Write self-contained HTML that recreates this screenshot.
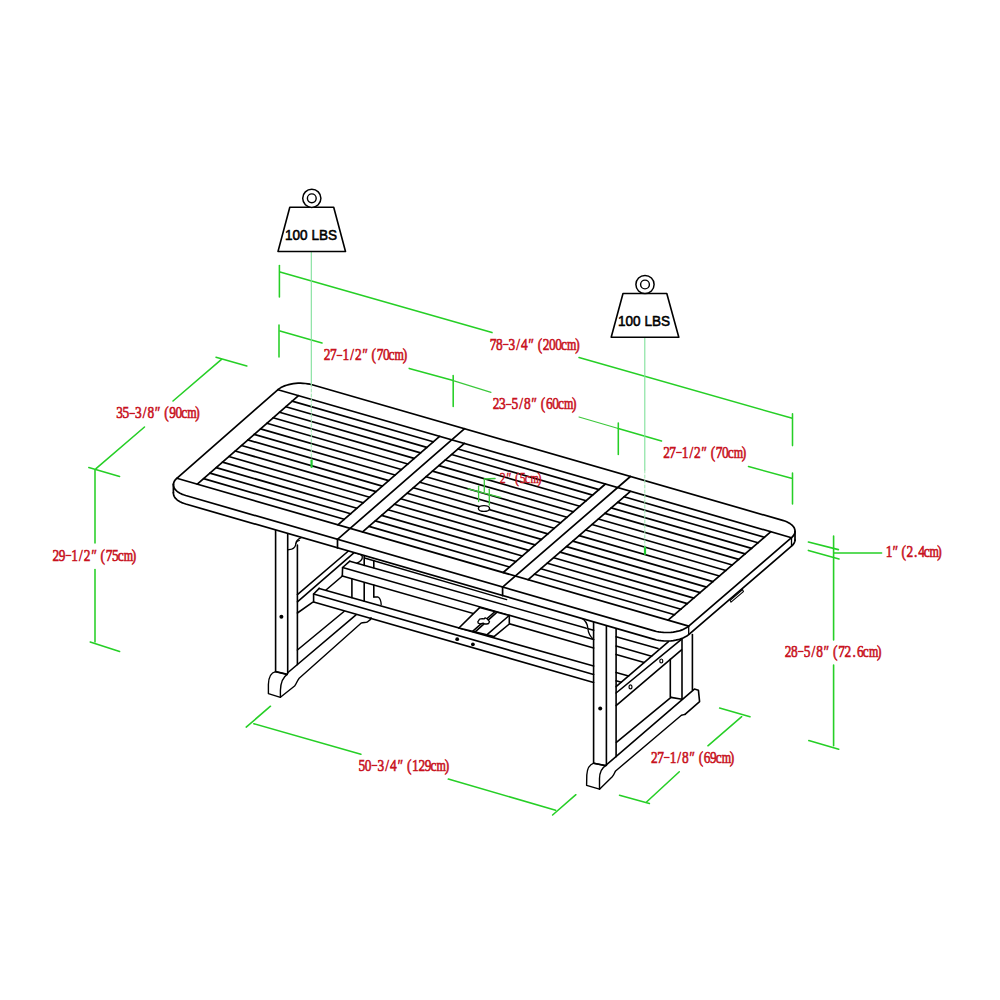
<!DOCTYPE html>
<html><head><meta charset="utf-8"><style>
html,body{margin:0;padding:0;background:#fff;}
svg{display:block;}
</style></head><body>
<svg width="1000" height="1000" viewBox="0 0 1000 1000" stroke-linecap="round">
<rect width="1000" height="1000" fill="#fff"/>
<line x1="279.4" y1="265.6" x2="279.4" y2="297.0" stroke="#26cf26" stroke-width="1.55" />
<line x1="280.0" y1="272.0" x2="492.0" y2="332.6" stroke="#26cf26" stroke-width="1.55" />
<line x1="579.0" y1="357.5" x2="791.4" y2="418.1" stroke="#26cf26" stroke-width="1.55" />
<line x1="792.5" y1="413.7" x2="792.5" y2="445.6" stroke="#26cf26" stroke-width="1.55" />
<text transform="scale(0.76,1)" text-anchor="middle" font-family="'Liberation Serif', serif" font-size="17.6" fill="#c8121e" font-weight="normal" stroke="#c8121e" stroke-width="0.65"><tspan x="648.84" y="349.7">7</tspan><tspan x="657.06" y="349.7">8</tspan><tspan x="665.27" y="347.1" font-size="13.0">–</tspan><tspan x="673.48" y="349.7">3</tspan><tspan x="681.69" y="349.7">/</tspan><tspan x="689.90" y="349.7">4</tspan><tspan x="697.80" y="349.7" font-style="italic">″</tspan><tspan x="710.44" y="349.7">(</tspan><tspan x="718.65" y="349.7">2</tspan><tspan x="726.86" y="349.7">0</tspan><tspan x="735.07" y="349.7">0</tspan><tspan x="742.10" y="349.7">c</tspan><tspan x="752.29" y="349.7" font-size="15.8">m</tspan><tspan x="759.71" y="349.7">)</tspan></text>
<line x1="279.0" y1="325.0" x2="279.0" y2="357.0" stroke="#26cf26" stroke-width="1.55" />
<line x1="280.0" y1="331.0" x2="322.0" y2="343.0" stroke="#26cf26" stroke-width="1.55" />
<line x1="409.2" y1="368.4" x2="453.2" y2="380.4" stroke="#26cf26" stroke-width="1.55" />
<line x1="453.2" y1="375.6" x2="453.2" y2="406.4" stroke="#26cf26" stroke-width="1.55" />
<text transform="scale(0.76,1)" text-anchor="middle" font-family="'Liberation Serif', serif" font-size="17.6" fill="#c8121e" font-weight="normal" stroke="#c8121e" stroke-width="0.65"><tspan x="430.41" y="360.2">2</tspan><tspan x="438.60" y="360.2">7</tspan><tspan x="446.78" y="357.6" font-size="13.0">–</tspan><tspan x="454.97" y="360.2">1</tspan><tspan x="463.16" y="360.2">/</tspan><tspan x="471.35" y="360.2">2</tspan><tspan x="479.21" y="360.2" font-style="italic">″</tspan><tspan x="491.81" y="360.2">(</tspan><tspan x="500.00" y="360.2">7</tspan><tspan x="508.19" y="360.2">0</tspan><tspan x="515.19" y="360.2">c</tspan><tspan x="525.35" y="360.2" font-size="15.8">m</tspan><tspan x="532.75" y="360.2">)</tspan></text>
<line x1="453.2" y1="380.6" x2="491.0" y2="392.4" stroke="#3cc83c" stroke-width="1.1" />
<line x1="579.0" y1="417.0" x2="618.3" y2="428.5" stroke="#3cc83c" stroke-width="1.1" />
<text transform="scale(0.76,1)" text-anchor="middle" font-family="'Liberation Serif', serif" font-size="17.6" fill="#c8121e" font-weight="normal" stroke="#c8121e" stroke-width="0.65"><tspan x="652.80" y="409.2">2</tspan><tspan x="661.02" y="409.2">3</tspan><tspan x="669.25" y="406.6" font-size="13.0">–</tspan><tspan x="677.48" y="409.2">5</tspan><tspan x="685.70" y="409.2">/</tspan><tspan x="693.93" y="409.2">8</tspan><tspan x="701.84" y="409.2" font-style="italic">″</tspan><tspan x="714.49" y="409.2">(</tspan><tspan x="722.72" y="409.2">6</tspan><tspan x="730.95" y="409.2">0</tspan><tspan x="737.99" y="409.2">c</tspan><tspan x="748.19" y="409.2" font-size="15.8">m</tspan><tspan x="755.62" y="409.2">)</tspan></text>
<line x1="618.3" y1="423.0" x2="618.3" y2="454.5" stroke="#26cf26" stroke-width="1.55" />
<line x1="618.3" y1="428.5" x2="661.5" y2="441.0" stroke="#26cf26" stroke-width="1.55" />
<line x1="748.5" y1="466.5" x2="791.4" y2="478.2" stroke="#26cf26" stroke-width="1.55" />
<line x1="792.5" y1="473.0" x2="792.5" y2="504.0" stroke="#26cf26" stroke-width="1.55" />
<text transform="scale(0.76,1)" text-anchor="middle" font-family="'Liberation Serif', serif" font-size="17.6" fill="#c8121e" font-weight="normal" stroke="#c8121e" stroke-width="0.65"><tspan x="876.97" y="458.0">2</tspan><tspan x="885.12" y="458.0">7</tspan><tspan x="893.27" y="455.4" font-size="13.0">–</tspan><tspan x="901.41" y="458.0">1</tspan><tspan x="909.56" y="458.0">/</tspan><tspan x="917.71" y="458.0">2</tspan><tspan x="925.53" y="458.0" font-style="italic">″</tspan><tspan x="938.08" y="458.0">(</tspan><tspan x="946.23" y="458.0">7</tspan><tspan x="954.38" y="458.0">0</tspan><tspan x="961.34" y="458.0">c</tspan><tspan x="971.46" y="458.0" font-size="15.8">m</tspan><tspan x="978.82" y="458.0">)</tspan></text>
<line x1="216.0" y1="357.2" x2="246.8" y2="366.0" stroke="#26cf26" stroke-width="1.55" />
<line x1="221.5" y1="359.4" x2="173.0" y2="401.0" stroke="#26cf26" stroke-width="1.55" />
<line x1="144.5" y1="427.0" x2="96.0" y2="468.7" stroke="#26cf26" stroke-width="1.55" />
<line x1="88.8" y1="467.6" x2="119.6" y2="476.4" stroke="#26cf26" stroke-width="1.55" />
<text transform="scale(0.76,1)" text-anchor="middle" font-family="'Liberation Serif', serif" font-size="17.6" fill="#c8121e" font-weight="normal" stroke="#c8121e" stroke-width="0.65"><tspan x="157.51" y="418.4">3</tspan><tspan x="165.70" y="418.4">5</tspan><tspan x="173.89" y="415.8" font-size="13.0">–</tspan><tspan x="182.08" y="418.4">3</tspan><tspan x="190.26" y="418.4">/</tspan><tspan x="198.45" y="418.4">8</tspan><tspan x="206.32" y="418.4" font-style="italic">″</tspan><tspan x="218.92" y="418.4">(</tspan><tspan x="227.11" y="418.4">9</tspan><tspan x="235.29" y="418.4">0</tspan><tspan x="242.30" y="418.4">c</tspan><tspan x="252.46" y="418.4" font-size="15.8">m</tspan><tspan x="259.85" y="418.4">)</tspan></text>
<line x1="95.0" y1="469.8" x2="95.0" y2="543.0" stroke="#26cf26" stroke-width="1.55" />
<line x1="95.0" y1="569.5" x2="95.0" y2="642.0" stroke="#26cf26" stroke-width="1.55" />
<line x1="90.2" y1="642.0" x2="119.6" y2="651.4" stroke="#26cf26" stroke-width="1.55" />
<text transform="scale(0.76,1)" text-anchor="middle" font-family="'Liberation Serif', serif" font-size="17.6" fill="#c8121e" font-weight="normal" stroke="#c8121e" stroke-width="0.65"><tspan x="73.59" y="561.0">2</tspan><tspan x="81.81" y="561.0">9</tspan><tspan x="90.04" y="558.4" font-size="13.0">–</tspan><tspan x="98.27" y="561.0">1</tspan><tspan x="106.49" y="561.0">/</tspan><tspan x="114.72" y="561.0">2</tspan><tspan x="122.63" y="561.0" font-style="italic">″</tspan><tspan x="135.28" y="561.0">(</tspan><tspan x="143.51" y="561.0">7</tspan><tspan x="151.73" y="561.0">5</tspan><tspan x="158.78" y="561.0">c</tspan><tspan x="168.98" y="561.0" font-size="15.8">m</tspan><tspan x="176.41" y="561.0">)</tspan></text>
<line x1="833.6" y1="536.0" x2="833.6" y2="640.0" stroke="#26cf26" stroke-width="1.6" />
<line x1="833.6" y1="665.0" x2="833.6" y2="745.8" stroke="#26cf26" stroke-width="1.6" />
<line x1="808.4" y1="542.0" x2="838.4" y2="549.6" stroke="#26cf26" stroke-width="1.6" />
<line x1="808.4" y1="550.4" x2="839.0" y2="559.0" stroke="#26cf26" stroke-width="1.6" />
<line x1="834.0" y1="553.0" x2="881.6" y2="553.0" stroke="#26cf26" stroke-width="1.6" />
<line x1="808.8" y1="740.6" x2="838.7" y2="749.2" stroke="#26cf26" stroke-width="1.6" />
<text transform="scale(0.76,1)" text-anchor="middle" font-family="'Liberation Serif', serif" font-size="17.6" fill="#c8121e" font-weight="normal" stroke="#c8121e" stroke-width="0.65"><tspan x="1169.70" y="557.2">1</tspan><tspan x="1177.09" y="557.2" font-style="italic">″</tspan><tspan x="1189.22" y="557.2">(</tspan><tspan x="1197.04" y="557.2">2</tspan><tspan x="1204.85" y="557.2">.</tspan><tspan x="1212.66" y="557.2">4</tspan><tspan x="1219.29" y="557.2">c</tspan><tspan x="1229.07" y="557.2" font-size="15.8">m</tspan><tspan x="1236.09" y="557.2">)</tspan></text>
<text transform="scale(0.76,1)" text-anchor="middle" font-family="'Liberation Serif', serif" font-size="17.6" fill="#c8121e" font-weight="normal" stroke="#c8121e" stroke-width="0.65"><tspan x="1037.03" y="656.8">2</tspan><tspan x="1045.30" y="656.8">8</tspan><tspan x="1053.57" y="654.2" font-size="13.0">–</tspan><tspan x="1061.83" y="656.8">5</tspan><tspan x="1070.10" y="656.8">/</tspan><tspan x="1078.37" y="656.8">8</tspan><tspan x="1086.34" y="656.8" font-style="italic">″</tspan><tspan x="1099.04" y="656.8">(</tspan><tspan x="1107.31" y="656.8">7</tspan><tspan x="1115.58" y="656.8">2</tspan><tspan x="1123.85" y="656.8">.</tspan><tspan x="1132.11" y="656.8">6</tspan><tspan x="1139.20" y="656.8">c</tspan><tspan x="1149.44" y="656.8" font-size="15.8">m</tspan><tspan x="1156.92" y="656.8">)</tspan></text>
<line x1="719.6" y1="708.1" x2="750.0" y2="716.7" stroke="#26cf26" stroke-width="1.55" />
<line x1="741.7" y1="716.7" x2="707.9" y2="745.8" stroke="#26cf26" stroke-width="1.55" />
<line x1="679.3" y1="771.8" x2="646.8" y2="801.7" stroke="#26cf26" stroke-width="1.55" />
<line x1="619.5" y1="795.2" x2="649.4" y2="803.5" stroke="#26cf26" stroke-width="1.55" />
<text transform="scale(0.76,1)" text-anchor="middle" font-family="'Liberation Serif', serif" font-size="17.6" fill="#c8121e" font-weight="normal" stroke="#c8121e" stroke-width="0.65"><tspan x="860.94" y="762.7">2</tspan><tspan x="869.12" y="762.7">7</tspan><tspan x="877.31" y="760.1" font-size="13.0">–</tspan><tspan x="885.50" y="762.7">1</tspan><tspan x="893.68" y="762.7">/</tspan><tspan x="901.87" y="762.7">8</tspan><tspan x="909.74" y="762.7" font-style="italic">″</tspan><tspan x="922.34" y="762.7">(</tspan><tspan x="930.53" y="762.7">6</tspan><tspan x="938.71" y="762.7">9</tspan><tspan x="945.72" y="762.7">c</tspan><tspan x="955.88" y="762.7" font-size="15.8">m</tspan><tspan x="963.27" y="762.7">)</tspan></text>
<line x1="246.2" y1="727.1" x2="270.5" y2="706.2" stroke="#26cf26" stroke-width="1.55" />
<line x1="253.8" y1="723.7" x2="360.9" y2="754.3" stroke="#26cf26" stroke-width="1.55" />
<line x1="448.3" y1="779.1" x2="555.6" y2="810.2" stroke="#26cf26" stroke-width="1.55" />
<line x1="552.6" y1="815.0" x2="575.9" y2="794.7" stroke="#26cf26" stroke-width="1.55" />
<text transform="scale(0.76,1)" text-anchor="middle" font-family="'Liberation Serif', serif" font-size="17.6" fill="#c8121e" font-weight="normal" stroke="#c8121e" stroke-width="0.65"><tspan x="476.12" y="770.9">5</tspan><tspan x="484.41" y="770.9">0</tspan><tspan x="492.71" y="768.3" font-size="13.0">–</tspan><tspan x="501.00" y="770.9">3</tspan><tspan x="509.30" y="770.9">/</tspan><tspan x="517.59" y="770.9">4</tspan><tspan x="525.59" y="770.9" font-style="italic">″</tspan><tspan x="538.33" y="770.9">(</tspan><tspan x="546.62" y="770.9">1</tspan><tspan x="554.91" y="770.9">2</tspan><tspan x="563.21" y="770.9">9</tspan><tspan x="570.32" y="770.9">c</tspan><tspan x="580.59" y="770.9" font-size="15.8">m</tspan><tspan x="588.09" y="770.9">)</tspan></text>
<path d="M349.8,561.2 L593.6,630.2" stroke="#000" stroke-width="1.6" fill="none" stroke-linejoin="round"/>
<path d="M616.1,636.7 L658.0,648.6" stroke="#000" stroke-width="1.6" fill="none" stroke-linejoin="round"/>
<path d="M342.6,567.5 L593.6,639.5" stroke="#000" stroke-width="1.6" fill="none" stroke-linejoin="round"/>
<path d="M616.1,646.0 L651.6,656.2" stroke="#000" stroke-width="1.6" fill="none" stroke-linejoin="round"/>
<path d="M342.3,575.9 L593.6,648.0" stroke="#000" stroke-width="1.6" fill="none" stroke-linejoin="round"/>
<path d="M616.1,654.4 L644.2,662.4" stroke="#000" stroke-width="1.6" fill="none" stroke-linejoin="round"/>
<path d="M349.8,561.2 L342.6,567.5 L342.3,575.9" stroke="#000" stroke-width="1.6" fill="none" stroke-linejoin="round"/>
<path d="M319.2,588.4 L593.6,666.1" stroke="#000" stroke-width="1.6" fill="none" stroke-linejoin="round"/>
<path d="M616.1,672.4 L628.6,676.0" stroke="#000" stroke-width="1.6" fill="none" stroke-linejoin="round"/>
<path d="M313.6,594.0 L593.6,674.4" stroke="#000" stroke-width="1.6" fill="none" stroke-linejoin="round"/>
<path d="M616.1,680.8 L621.3,682.3" stroke="#000" stroke-width="1.6" fill="none" stroke-linejoin="round"/>
<path d="M313.6,602.0 L593.6,682.4" stroke="#000" stroke-width="1.6" fill="none" stroke-linejoin="round"/>
<path d="M319.2,588.4 L313.6,594.0 L313.6,602.0" stroke="#000" stroke-width="1.6" fill="none" stroke-linejoin="round"/>
<circle cx="457.2" cy="639.2" r="1.9" fill="#000"/>
<circle cx="472.9" cy="644.3" r="1.9" fill="#000"/>
<path d="M479.6,607.6 L509.3,615.6 L509.3,624.0 L494.0,636.6 L486.8,634.8 L458.9,628.0" stroke="#000" stroke-width="1.6" fill="#fff" stroke-linejoin="round"/>
<path d="M479.6,607.6 L458.9,628.0" stroke="#000" stroke-width="1.6" fill="none" stroke-linejoin="round"/>
<path d="M508.6,616.0 L486.8,634.8" stroke="#000" stroke-width="1.6" fill="none" stroke-linejoin="round"/>
<path d="M494.5,612.0 L472.6,631.4" stroke="#000" stroke-width="1.6" fill="none" stroke-linejoin="round"/>
<path d="M496.5,612.6 L474.9,632.2" stroke="#000" stroke-width="1.6" fill="none" stroke-linejoin="round"/>
<path d="M477.8,621.8 L479.6,619.2 L482.3,618.6 L484.3,618.8 L485.2,617.8 L487.3,619.0 L489.5,621.6 L488.6,623.5 L486.8,624.0 L485.0,624.0 L483.2,623.2 L480.2,624.0 L478.3,623.2 Z" fill="#fff" stroke="#000" stroke-width="1.3" stroke-linejoin="round"/>
<path d="M364.5,558.0 L506.6,599.6" stroke="#000" stroke-width="1.5" fill="none" stroke-linejoin="round"/>
<path d="M351.9,578.9 L351.9,597.6" stroke="#000" stroke-width="1.6" fill="none" stroke-linejoin="round"/>
<path d="M364.2,555.8 L364.2,565.4" stroke="#000" stroke-width="1.6" fill="none" stroke-linejoin="round"/>
<path d="M364.2,582.8 L364.2,601.2" stroke="#000" stroke-width="1.6" fill="none" stroke-linejoin="round"/>
<path d="M373.8,560.6 L373.8,567.8" stroke="#000" stroke-width="1.6" fill="none" stroke-linejoin="round"/>
<path d="M373.8,585.0 L373.8,597.0" stroke="#000" stroke-width="1.6" fill="none" stroke-linejoin="round"/>
<path d="M355.2,553.1 C359,553.6 361.8,554.6 362.3,556.5 C362.6,558.8 360.5,561.5 357,563.2" fill="none" stroke="#000" stroke-width="1.3"/>
<path d="M373.8,597 L378,597 C380,598 381,601 381.2,604.6" fill="none" stroke="#000" stroke-width="1.3"/>
<path d="M297.4,594.6 L348.4,551.0" stroke="#000" stroke-width="1.6" fill="none" stroke-linejoin="round"/>
<path d="M297.4,601.8 L353.6,553.2" stroke="#000" stroke-width="1.6" fill="none" stroke-linejoin="round"/>
<path d="M297.4,613.0 L312.5,602.3" stroke="#000" stroke-width="1.6" fill="none" stroke-linejoin="round"/>
<path d="M326.0,590.0 L342.4,576.0" stroke="#000" stroke-width="1.6" fill="none" stroke-linejoin="round"/>
<path d="M297.4,650.0 L344.0,611.5" stroke="#000" stroke-width="1.6" fill="none" stroke-linejoin="round"/>
<path d="M288.0,672.5 L356.0,614.8" stroke="#000" stroke-width="1.6" fill="none" stroke-linejoin="round"/>
<path d="M280.4,697.2 L294.6,686 C296.4,684 297.2,680.5 299.2,678.2 L361,623.2 C363,622.2 365.5,622.8 367,622.2 L370.6,619.4 L371,617.6" fill="none" stroke="#000" stroke-width="1.4" stroke-linejoin="round"/>
<path d="M275.6,529.0 L275.6,671.6" stroke="#000" stroke-width="1.6" fill="none" stroke-linejoin="round"/>
<path d="M287.7,532.0 L287.7,673.4" stroke="#000" stroke-width="1.6" fill="none" stroke-linejoin="round"/>
<path d="M297.4,545.0 L297.4,664.6" stroke="#000" stroke-width="1.6" fill="none" stroke-linejoin="round"/>
<path d="M287.7,549.8 L291.6,549.2 C294.2,548.4 295.6,546.4 295.9,543.4 C296.2,540.6 298.2,538.8 301.2,537.6" fill="none" stroke="#000" stroke-width="1.3"/>
<path d="M295.9,543.4 C296.6,541.6 297.8,540.6 299.4,540.4" fill="none" stroke="#000" stroke-width="1.1"/>
<circle cx="281.4" cy="616.7" r="2" fill="#000"/>
<path d="M275.6,671.6 C271.2,672.6 268.6,676.8 268.4,684.4 L268.4,693.6 L280.4,697.4 L280.4,690.6 C280.6,683.4 282.6,677.4 287.2,674.4 Z" fill="#fff" stroke="#000" stroke-width="1.4" stroke-linejoin="round"/>
<path d="M275.6,671.6 L287.2,674.4" stroke="#000" stroke-width="1.6" fill="none" stroke-linejoin="round"/>
<path d="M616.1,686.7 L668.5,641.7" stroke="#000" stroke-width="1.6" fill="none" stroke-linejoin="round"/>
<path d="M616.1,693.0 L681.1,639.6" stroke="#000" stroke-width="1.6" fill="none" stroke-linejoin="round"/>
<path d="M616.1,705.6 L681.5,649.8" stroke="#000" stroke-width="1.6" fill="none" stroke-linejoin="round"/>
<ellipse cx="630.5" cy="686.9" rx="1.5" ry="2" fill="none" stroke="#000" stroke-width="1.2"/>
<ellipse cx="661.3" cy="661.0" rx="1.5" ry="2" fill="none" stroke="#000" stroke-width="1.2"/>
<path d="M670.3,659.4 L670.3,697.0" stroke="#000" stroke-width="1.6" fill="none" stroke-linejoin="round"/>
<path d="M682.0,639.6 L682.0,699.3" stroke="#000" stroke-width="1.6" fill="none" stroke-linejoin="round"/>
<path d="M692.4,634.5 L692.4,690.0" stroke="#000" stroke-width="1.6" fill="none" stroke-linejoin="round"/>
<path d="M616.4,742.4 L671.0,697.4" stroke="#000" stroke-width="1.6" fill="none" stroke-linejoin="round"/>
<path d="M671.0,697.4 L682.0,699.3" stroke="#000" stroke-width="1.6" fill="none" stroke-linejoin="round"/>
<path d="M606.0,765.2 L694.4,689.1 L698.4,690.2 L699.6,701.6 L685.0,714.4" stroke="#000" stroke-width="1.6" fill="none" stroke-linejoin="round"/>
<path d="M599.5,789.2 L612.5,776.4 C614,774.6 614.5,772.6 615.6,771 L681.4,715.2 L685,714.4" fill="none" stroke="#000" stroke-width="1.4" stroke-linejoin="round"/>
<path d="M593.6,621.5 L593.6,763.2" stroke="#000" stroke-width="1.6" fill="none" stroke-linejoin="round"/>
<path d="M606.4,625.4 L606.4,765.4" stroke="#000" stroke-width="1.6" fill="none" stroke-linejoin="round"/>
<path d="M616.1,628.2 L616.1,756.7" stroke="#000" stroke-width="1.6" fill="none" stroke-linejoin="round"/>
<path d="M580.8,617.6 C585.2,620 587.4,623.4 587.8,628 C588.2,633 590,636.6 593.6,639.2" fill="#fff" stroke="#000" stroke-width="1.3"/>
<circle cx="600.2" cy="708.6" r="2" fill="#000"/>
<path d="M593.7,763.2 C589.6,764.6 587.2,768.6 586.8,775 L586.6,785.3 L599.5,789.2 L599.5,778.6 C599.6,772.8 601.4,768.2 605.6,765.6 Z" fill="#fff" stroke="#000" stroke-width="1.4" stroke-linejoin="round"/>
<path d="M593.7,763.2 L605.6,765.6" stroke="#000" stroke-width="1.6" fill="none" stroke-linejoin="round"/>
<path d="M730.2,600.4 L742.6,589.6 L743.4,591.6 L731.0,602.2 Z" fill="#fff" stroke="#000" stroke-width="1.1"/>
<path d="M278.0,389.7 L279.3,388.6 L280.9,387.6 L282.6,386.7 L284.5,385.9 L286.5,385.2 L288.7,384.6 L290.9,384.1 L293.3,383.7 L295.7,383.4 L298.1,383.2 L300.6,383.2 L303.0,383.3 L305.4,383.5 L307.8,383.8 L310.0,384.2 L312.2,384.8 L782.7,520.4 L784.8,521.0 L786.7,521.8 L788.5,522.7 L790.0,523.6 L791.4,524.6 L792.6,525.7 L793.5,526.8 L794.3,528.0 L794.7,529.2 L795.0,530.5 L795.0,531.7 L795.0,540.2 L794.8,541.5 L794.3,542.7 L793.6,543.9 L792.6,545.1 L791.5,546.2 L688.7,634.6 L687.3,635.7 L685.8,636.6 L684.0,637.5 L682.1,638.4 L680.1,639.1 L677.9,639.7 L675.7,640.2 L673.3,640.6 L670.9,640.9 L668.4,641.0 L666.0,641.0 L663.5,640.9 L661.1,640.7 L658.8,640.4 L656.5,640.0 L654.3,639.4 L185.7,504.0 L183.6,503.3 L181.7,502.6 L180.0,501.7 L178.4,500.8 L177.1,499.8 L175.9,498.7 L174.9,497.6 L174.2,496.4 L173.7,495.2 L173.5,493.9 L173.4,492.7 L173.4,484.2 L173.7,483.0 L174.1,481.7 L174.8,480.5 L175.7,479.4 L176.8,478.3 Z" stroke="none" stroke-width="0" fill="#fff" stroke-linejoin="round"/>
<path d="M278.0,389.7 L279.3,388.6 L280.9,387.6 L282.6,386.7 L284.5,385.9 L286.5,385.2 L288.7,384.6 L290.9,384.1 L293.3,383.7 L295.7,383.4 L298.1,383.2 L300.6,383.2 L303.0,383.3 L305.4,383.5 L307.8,383.8 L310.0,384.2 L312.2,384.8 L782.7,520.4 L784.8,521.0 L786.7,521.8 L788.5,522.7 L790.0,523.6 L791.4,524.6 L792.6,525.7 L793.5,526.8 L794.3,528.0 L794.7,529.2 L795.0,530.5 L795.0,531.7 L794.8,533.0 L794.3,534.2 L793.6,535.4 L792.6,536.6 L791.5,537.7 L688.7,626.1 L687.3,627.2 L685.8,628.1 L684.0,629.0 L682.1,629.9 L680.1,630.6 L677.9,631.2 L675.7,631.7 L673.3,632.1 L670.9,632.4 L668.4,632.5 L666.0,632.5 L663.5,632.4 L661.1,632.2 L658.8,631.9 L656.5,631.5 L654.3,630.9 L185.7,495.5 L183.6,494.8 L181.7,494.1 L180.0,493.2 L178.4,492.3 L177.1,491.3 L175.9,490.2 L174.9,489.1 L174.2,487.9 L173.7,486.7 L173.5,485.4 L173.4,484.2 L173.7,483.0 L174.1,481.7 L174.8,480.5 L175.7,479.4 L176.8,478.3 Z" stroke="#000" stroke-width="1.7" fill="none" stroke-linejoin="round"/>
<path d="M795.0,540.2 L794.8,541.5 L794.3,542.7 L793.6,543.9 L792.6,545.1 L791.5,546.2 L688.7,634.6 L687.3,635.7 L685.8,636.6 L684.0,637.5 L682.1,638.4 L680.1,639.1 L677.9,639.7 L675.7,640.2 L673.3,640.6 L670.9,640.9 L668.4,641.0 L666.0,641.0 L663.5,640.9 L661.1,640.7 L658.8,640.4 L656.5,640.0 L654.3,639.4 L185.7,504.0 L183.6,503.3 L181.7,502.6 L180.0,501.7 L178.4,500.8 L177.1,499.8 L175.9,498.7 L174.9,497.6 L174.2,496.4 L173.7,495.2 L173.5,493.9 L173.4,492.7" stroke="#000" stroke-width="1.7" fill="none" stroke-linejoin="round"/>
<line x1="173.4" y1="484.2" x2="173.4" y2="492.7" stroke="#000" stroke-width="1.7" />
<line x1="795.0" y1="531.7" x2="795.0" y2="540.2" stroke="#000" stroke-width="1.7" />
<line x1="791.5" y1="537.7" x2="791.5" y2="546.2" stroke="#000" stroke-width="1.3" />
<line x1="688.7" y1="626.1" x2="688.7" y2="634.6" stroke="#000" stroke-width="1.3" />
<line x1="278.0" y1="389.7" x2="791.5" y2="537.7" stroke="#000" stroke-width="1.7" />
<line x1="176.8" y1="478.3" x2="688.7" y2="626.1" stroke="#000" stroke-width="1.7" />
<line x1="298.5" y1="395.6" x2="197.3" y2="484.2" stroke="#000" stroke-width="1.7" />
<line x1="770.9" y1="531.7" x2="668.1" y2="620.2" stroke="#000" stroke-width="1.7" />
<line x1="464.6" y1="428.7" x2="337.5" y2="539.4" stroke="#000" stroke-width="1.7" />
<line x1="337.5" y1="539.4" x2="337.5" y2="547.9" stroke="#000" stroke-width="1.7" />
<line x1="630.4" y1="476.5" x2="502.6" y2="587.1" stroke="#000" stroke-width="1.7" />
<line x1="502.6" y1="587.1" x2="502.6" y2="595.6" stroke="#000" stroke-width="1.7" />
<line x1="439.6" y1="436.3" x2="337.9" y2="524.8" stroke="#000" stroke-width="1.7" />
<line x1="464.4" y1="443.4" x2="362.6" y2="531.9" stroke="#000" stroke-width="1.7" />
<line x1="605.4" y1="484.0" x2="503.2" y2="572.5" stroke="#000" stroke-width="1.7" />
<line x1="630.4" y1="491.3" x2="528.2" y2="579.7" stroke="#000" stroke-width="1.7" />
<line x1="292.1" y1="401.1" x2="433.2" y2="441.8" stroke="#000" stroke-width="1.7" />
<line x1="458.0" y1="449.0" x2="599.0" y2="489.6" stroke="#000" stroke-width="1.7" />
<line x1="624.0" y1="496.8" x2="764.4" y2="537.3" stroke="#000" stroke-width="1.7" />
<line x1="285.8" y1="406.7" x2="426.8" y2="447.4" stroke="#000" stroke-width="1.7" />
<line x1="451.6" y1="454.5" x2="592.6" y2="495.1" stroke="#000" stroke-width="1.7" />
<line x1="617.6" y1="502.4" x2="758.0" y2="542.8" stroke="#000" stroke-width="1.7" />
<line x1="279.5" y1="412.2" x2="420.5" y2="452.9" stroke="#000" stroke-width="1.7" />
<line x1="445.2" y1="460.0" x2="586.2" y2="500.7" stroke="#000" stroke-width="1.7" />
<line x1="611.2" y1="507.9" x2="751.6" y2="548.4" stroke="#000" stroke-width="1.7" />
<line x1="273.1" y1="417.8" x2="414.1" y2="458.4" stroke="#000" stroke-width="1.7" />
<line x1="438.9" y1="465.6" x2="579.8" y2="506.2" stroke="#000" stroke-width="1.7" />
<line x1="604.8" y1="513.4" x2="745.1" y2="553.9" stroke="#000" stroke-width="1.7" />
<line x1="266.8" y1="423.3" x2="407.8" y2="464.0" stroke="#000" stroke-width="1.7" />
<line x1="432.5" y1="471.1" x2="573.4" y2="511.7" stroke="#000" stroke-width="1.7" />
<line x1="598.4" y1="519.0" x2="738.7" y2="559.4" stroke="#000" stroke-width="1.7" />
<line x1="260.5" y1="428.9" x2="401.4" y2="469.5" stroke="#000" stroke-width="1.7" />
<line x1="426.1" y1="476.7" x2="567.0" y2="517.3" stroke="#000" stroke-width="1.7" />
<line x1="592.0" y1="524.5" x2="732.3" y2="565.0" stroke="#000" stroke-width="1.7" />
<line x1="254.1" y1="434.4" x2="395.0" y2="475.0" stroke="#000" stroke-width="1.7" />
<line x1="419.8" y1="482.2" x2="560.6" y2="522.8" stroke="#000" stroke-width="1.7" />
<line x1="585.6" y1="530.0" x2="725.9" y2="570.5" stroke="#000" stroke-width="1.7" />
<line x1="247.8" y1="439.9" x2="388.7" y2="480.6" stroke="#000" stroke-width="1.7" />
<line x1="413.4" y1="487.7" x2="554.2" y2="528.3" stroke="#000" stroke-width="1.7" />
<line x1="579.2" y1="535.6" x2="719.4" y2="576.0" stroke="#000" stroke-width="1.7" />
<line x1="241.5" y1="445.5" x2="382.3" y2="486.1" stroke="#000" stroke-width="1.7" />
<line x1="407.1" y1="493.3" x2="547.8" y2="533.9" stroke="#000" stroke-width="1.7" />
<line x1="572.8" y1="541.1" x2="713.0" y2="581.6" stroke="#000" stroke-width="1.7" />
<line x1="235.2" y1="451.0" x2="376.0" y2="491.6" stroke="#000" stroke-width="1.7" />
<line x1="400.7" y1="498.8" x2="541.4" y2="539.4" stroke="#000" stroke-width="1.7" />
<line x1="566.5" y1="546.6" x2="706.6" y2="587.1" stroke="#000" stroke-width="1.7" />
<line x1="228.8" y1="456.5" x2="369.6" y2="497.2" stroke="#000" stroke-width="1.7" />
<line x1="394.3" y1="504.3" x2="535.0" y2="544.9" stroke="#000" stroke-width="1.7" />
<line x1="560.1" y1="552.1" x2="700.2" y2="592.6" stroke="#000" stroke-width="1.7" />
<line x1="222.5" y1="462.1" x2="363.3" y2="502.7" stroke="#000" stroke-width="1.7" />
<line x1="388.0" y1="509.8" x2="528.7" y2="550.4" stroke="#000" stroke-width="1.7" />
<line x1="553.7" y1="557.7" x2="693.8" y2="598.1" stroke="#000" stroke-width="1.7" />
<line x1="216.2" y1="467.6" x2="356.9" y2="508.2" stroke="#000" stroke-width="1.7" />
<line x1="381.6" y1="515.4" x2="522.3" y2="556.0" stroke="#000" stroke-width="1.7" />
<line x1="547.3" y1="563.2" x2="687.4" y2="603.6" stroke="#000" stroke-width="1.7" />
<line x1="209.9" y1="473.1" x2="350.6" y2="513.7" stroke="#000" stroke-width="1.7" />
<line x1="375.3" y1="520.9" x2="515.9" y2="561.5" stroke="#000" stroke-width="1.7" />
<line x1="540.9" y1="568.7" x2="681.0" y2="609.2" stroke="#000" stroke-width="1.7" />
<line x1="203.6" y1="478.6" x2="344.2" y2="519.3" stroke="#000" stroke-width="1.7" />
<line x1="369.0" y1="526.4" x2="509.5" y2="567.0" stroke="#000" stroke-width="1.7" />
<line x1="534.5" y1="574.2" x2="674.6" y2="614.7" stroke="#000" stroke-width="1.7" />
<ellipse cx="484.0" cy="508.5" rx="5.6" ry="2.9" fill="#fff" stroke="#000" stroke-width="1.4"/>
<line x1="311.3" y1="252.0" x2="311.3" y2="384.0" stroke="#7fe09a" stroke-width="1.1" />
<line x1="311.3" y1="384.0" x2="311.3" y2="462.0" stroke="#9fe6b0" stroke-width="1.0" stroke-dasharray="3,2"/>
<line x1="311.6" y1="460.5" x2="311.6" y2="467.0" stroke="#22cc33" stroke-width="2.2" />
<line x1="644.8" y1="338.0" x2="644.8" y2="470.0" stroke="#7fe09a" stroke-width="1.1" />
<line x1="644.8" y1="470.0" x2="644.8" y2="547.0" stroke="#9fe6b0" stroke-width="1.0" stroke-dasharray="3,2"/>
<line x1="645.0" y1="547.5" x2="645.0" y2="554.0" stroke="#22cc33" stroke-width="2.2" />
<line x1="478.6" y1="486.2" x2="478.6" y2="501.5" stroke="#3cc83c" stroke-width="1.3" />
<line x1="489.3" y1="489.3" x2="489.3" y2="505.0" stroke="#3cc83c" stroke-width="1.3" />
<line x1="484.3" y1="479.0" x2="484.3" y2="491.6" stroke="#3cc83c" stroke-width="1.3" />
<line x1="484.3" y1="479.0" x2="495.1" y2="478.5" stroke="#3cc83c" stroke-width="1.3" />
<line x1="468.1" y1="488.9" x2="500.5" y2="497.4" stroke="#3cc83c" stroke-width="1.3" />
<text transform="scale(0.76,1)" text-anchor="middle" font-family="'Liberation Serif', serif" font-size="15.5" fill="#c8121e" font-weight="normal" stroke="#c8121e" stroke-width="0.5"><tspan x="661.61" y="482.7">2</tspan><tspan x="668.54" y="482.7" font-style="italic">″</tspan><tspan x="680.21" y="482.7">(</tspan><tspan x="687.65" y="482.7">5</tspan><tspan x="693.90" y="482.7">c</tspan><tspan x="703.32" y="482.7" font-size="14.0">m</tspan><tspan x="709.96" y="482.7">)</tspan></text>
<path d="M289.8,207.3 L333.7,207.3 L345.5,251.5 L278.0,251.5 Z" stroke="#000" stroke-width="1.6" fill="#fff" stroke-linejoin="round"/>
<circle cx="311.8" cy="198.3" r="9.1" stroke="#000" stroke-width="1.5" fill="#fff"/>
<circle cx="311.8" cy="198.3" r="4.4" stroke="#000" stroke-width="1.4" fill="none"/>
<text x="285.0" y="239.5" font-family="'Liberation Sans', sans-serif" font-size="14" fill="#000" font-weight="normal" stroke="#000" stroke-width="0.55" textLength="52.0" lengthAdjust="spacingAndGlyphs">100 LBS</text>
<path d="M623.0,293.5 L666.8,293.5 L678.8,337.2 L611.2,337.2 Z" stroke="#000" stroke-width="1.6" fill="#fff" stroke-linejoin="round"/>
<circle cx="645" cy="284.5" r="9.1" stroke="#000" stroke-width="1.5" fill="#fff"/>
<circle cx="645" cy="284.5" r="4.4" stroke="#000" stroke-width="1.4" fill="none"/>
<text x="618.0" y="325.5" font-family="'Liberation Sans', sans-serif" font-size="14" fill="#000" font-weight="normal" stroke="#000" stroke-width="0.55" textLength="52.0" lengthAdjust="spacingAndGlyphs">100 LBS</text>
</svg></body></html>
